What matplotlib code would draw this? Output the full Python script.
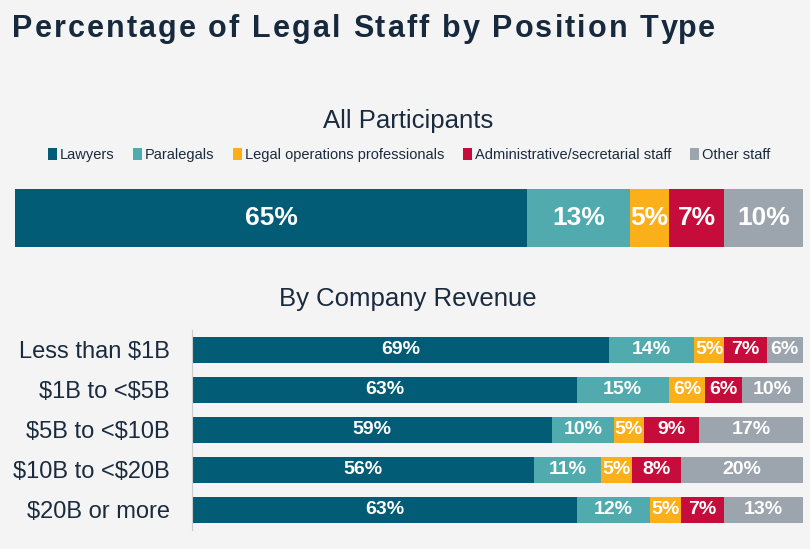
import matplotlib
matplotlib.use("Agg")
import matplotlib.pyplot as plt
from matplotlib.patches import Patch
import numpy as np

series = ["Lawyers", "Paralegals", "Legal operations professionals",
          "Administrative/secretarial staff", "Other staff"]
colors = ["#035C75", "#51AAAD", "#FBAF19", "#C60C3A", "#9CA4AE"]

all_values = [65, 13, 5, 7, 10]

revenue_groups = ["Less than $1B", "$1B to <$5B", "$5B to <$10B",
                  "$10B to <$20B", "$20B or more"]
lawyers = [69, 63, 59, 56, 63]
paralegals = [14, 15, 10, 11, 12]
legal_ops = [5, 6, 5, 5, 5]
admin = [7, 6, 9, 8, 7]
other = [6, 10, 17, 20, 13]

title = "Percentage of Legal Staff by Position Type"

plt.rcParams["font.family"] = ["Liberation Sans", "DejaVu Sans"]
plt.rcParams["text.parse_math"] = False

fig = plt.figure(figsize=(8.1, 5.49), dpi=100)
fig.patch.set_facecolor("#F4F4F4")
TXT = "#1B2B3F"

# Title with letter spacing
renderer = fig.canvas.get_renderer()
tx0 = 12.0
ty = 1 - 37 / 549
spacing = 2.1
probe = fig.text(0, 0, "", fontsize=22, fontweight="bold")
for i, ch in enumerate(title):
    probe.set_text(title[:i] + "|")
    w_pref = probe.get_window_extent(renderer).width
    probe.set_text("|")
    w_bar = probe.get_window_extent(renderer).width
    x = tx0 + (w_pref - w_bar if i > 0 else 0) + i * spacing
    fig.text(x / 810, ty, ch, fontsize=22, fontweight="bold", color="#16293D",
             ha="left", va="baseline")
probe.remove()

fig.text(408 / 810, 1 - 128 / 549, "All Participants", fontsize=18.5,
         color=TXT, ha="center", va="baseline")

handles = [Patch(facecolor=c, edgecolor="none", label=s) for s, c in zip(series, colors)]
fig.legend(handles=handles, loc="center", bbox_to_anchor=(409 / 810, 1 - 155 / 549),
           ncol=5, frameon=False, fontsize=10.5, handlelength=0.6, handleheight=0.8,
           handletextpad=0.2, columnspacing=1.3, labelcolor=TXT)

# Top bar: all participants
ax1 = fig.add_axes([15 / 810, (549 - 247) / 549, 788 / 810, 58 / 549])
ax1.set_facecolor("none")
left = 0
for v, c in zip(all_values, colors):
    ax1.barh(0, v, left=left, height=1.0, color=c, edgecolor="none")
    ax1.text(left + v / 2, 0, f"{v}%", ha="center", va="center", color="white",
             fontsize=19, fontweight="bold")
    left += v
ax1.set_xlim(0, sum(all_values))
ax1.set_ylim(-0.5, 0.5)
ax1.axis("off")

fig.text(408 / 810, 1 - 306 / 549, "By Company Revenue", fontsize=18.5,
         color=TXT, ha="center", va="baseline")

# Bottom chart: by company revenue
ax2 = fig.add_axes([192 / 810, (549 - 530) / 549, 611 / 810, 200 / 549])
ax2.set_facecolor("none")
data = np.array([lawyers, paralegals, legal_ops, admin, other], dtype=float)
totals = data.sum(axis=0)
y = np.arange(len(revenue_groups))
lefts = np.zeros(len(revenue_groups))
for vals, c in zip(data, colors):
    widths = vals / totals * 100
    ax2.barh(y, widths, left=lefts, height=0.63, color=c, edgecolor="none")
    for yi, (l, w, v) in enumerate(zip(lefts, widths, vals)):
        ax2.text(l + w / 2, yi, f"{int(v)}%", ha="center", va="center",
                 color="white", fontsize=14, fontweight="bold")
    lefts += widths
ax2.set_xlim(0, 100)
ax2.set_ylim(len(revenue_groups) - 0.5, -0.5)
ax2.set_yticks(y)
ax2.set_yticklabels(revenue_groups, fontsize=17, color=TXT)
ax2.tick_params(axis="y", length=0, pad=16)
ax2.set_xticks([])
for s in ["top", "right", "bottom"]:
    ax2.spines[s].set_visible(False)
ax2.spines["left"].set_color("#CCCCCC")
ax2.spines["left"].set_linewidth(0.8)

fig.savefig("out.png", dpi=100, facecolor=fig.get_facecolor())
